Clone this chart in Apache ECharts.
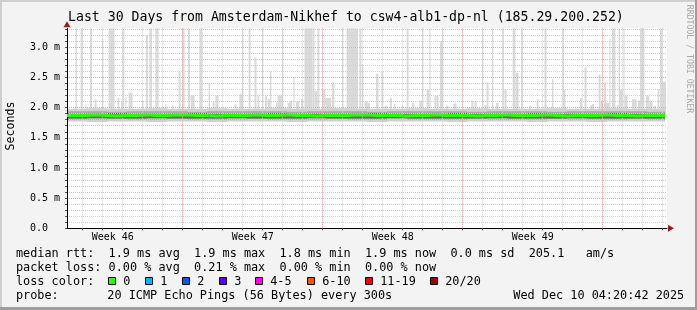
<!DOCTYPE html>
<html><head><meta charset="utf-8">
<script src="https://cdn.jsdelivr.net/npm/echarts@6/dist/echarts.min.js"></script>
<style>html,body{margin:0;padding:0;background:#f3f3f3}#c{width:697px;height:310px}</style>
</head><body><div id="c"></div>
<script>
// ---------------- data ----------------
const chartTitle = 'Last 30 Days from Amsterdam-Nikhef to csw4-alb1-dp-nl (185.29.200.252)';
const weekLabels = ['Week 46', 'Week 47', 'Week 48', 'Week 49'];
const yLabelValues = [0, 0.5, 1.0, 1.5, 2.0, 2.5, 3.0];
const yLabelTexts = ['0.0  ', '0.5 m', '1.0 m', '1.5 m', '2.0 m', '2.5 m', '3.0 m'];
const yMax = 3.315;              // ms, top of plot
const rangeDays = 30;
const firstMidnight = 0.785;     // days after range start
const firstWeekStart = 5.785;    // days after range start

// median rtt (ms), one value per half day
const medianStep = 0.5;
const median = [1.87,1.87,1.88,1.87,1.86,1.87,1.87,1.88,1.87,1.87,1.88,1.88,1.87,1.87,1.86,1.87,1.87,1.87,1.88,1.87,
                1.87,1.88,1.87,1.87,1.86,1.87,1.87,1.87,1.88,1.88,1.87,1.87,1.87,1.86,1.87,1.87,1.88,1.87,1.87,1.87,
                1.86,1.87,1.87,1.88,1.87,1.87,1.87,1.88,1.87,1.86,1.87,1.87,1.87,1.88,1.87,1.87,1.86,1.87,1.87,1.87];
const dataEnd = 29.9;
// loss = 1 segment
const loss1Start = [7.08];
const loss1End = [7.15];

// smoke bands (ms), one per day
const outerLo = [1.77,1.76,1.77,1.77,1.76,1.77,1.77,1.76,1.77,1.77,1.77,1.76,1.77,1.77,1.77,1.76,1.77,1.77,1.77,1.76,1.77,1.77,1.77,1.76,1.77,1.77,1.76,1.77,1.77,1.77];
const outerHi = [1.98,1.99,1.98,1.98,1.99,1.98,1.98,1.99,1.98,1.98,1.99,1.98,1.98,1.99,1.98,1.98,1.98,1.99,1.98,1.98,1.99,1.98,1.98,1.98,1.99,1.98,1.98,1.99,1.98,1.98];
const midLo = [1.80,1.80,1.81,1.80,1.80,1.81,1.80,1.80,1.80,1.81,1.80,1.80,1.80,1.81,1.80,1.80,1.81,1.80,1.80,1.80,1.81,1.80,1.80,1.80,1.81,1.80,1.80,1.80,1.81,1.80];
const midHi = [1.94,1.94,1.93,1.94,1.94,1.94,1.93,1.94,1.94,1.94,1.94,1.93,1.94,1.94,1.94,1.93,1.94,1.94,1.94,1.94,1.93,1.94,1.94,1.94,1.93,1.94,1.94,1.94,1.94,1.93];
const darkLo = [1.82,1.83,1.82,1.82,1.83,1.82,1.82,1.82,1.83,1.82,1.82,1.82,1.83,1.82,1.82,1.82,1.83,1.82,1.82,1.82,1.82,1.83,1.82,1.82,1.82,1.83,1.82,1.82,1.82,1.82];
const darkHi = [1.90,1.90,1.91,1.90,1.90,1.90,1.91,1.90,1.90,1.90,1.91,1.90,1.90,1.90,1.90,1.91,1.90,1.90,1.90,1.91,1.90,1.90,1.90,1.91,1.90,1.90,1.90,1.91,1.90,1.90];

// max-ping spikes: start day, end day, top (ms); 3.5 = off scale
const spikeBase = 1.9;
const spikeStart = [0.42,0.68,0.92,1.15,1.38,1.75,2.08,2.53,2.70,2.78,2.92,3.08,3.75,3.95,4.12,4.42,4.92,5.25,5.58,5.78,6.05,6.18,6.62,7.08,7.28,7.42,
  8.37,8.62,8.75,9.08,9.37,9.53,9.75,9.90,10.03,10.15,10.45,10.53,10.75,11.03,11.15,11.32,11.45,11.70,11.87,12.28,12.38,12.52,12.78,12.92,13.25,13.75,13.98,14.62,14.75,14.87,
  14.95,15.45,15.72,15.87,16.15,16.35,16.75,16.98,17.25,17.62,17.75,17.98,18.12,18.37,18.48,18.65,18.75,18.95,19.32,20.22,20.37,20.75,20.87,20.98,21.25,21.45,21.78,21.87,22.28,22.42,
  22.70,23.12,23.48,23.87,24.25,24.78,24.85,25.65,25.87,26.15,26.25,26.58,26.68,26.85,26.95,27.12,27.25,27.48,27.58,27.65,27.82,27.88,28.25,28.55,28.65,28.95,29.12,29.20,29.33,29.53,29.65,29.78];
const spikeEnd = [0.50,0.78,0.98,1.25,1.48,1.82,2.38,2.62,2.78,2.87,2.98,3.28,3.82,4.05,4.25,4.58,4.98,5.32,5.68,5.88,6.15,6.38,6.75,7.15,7.38,7.58,
  8.48,8.75,8.82,9.18,9.48,9.62,9.82,10.00,10.15,10.22,10.53,10.75,10.82,11.15,11.25,11.38,11.62,11.82,12.28,12.38,12.52,12.62,12.92,13.20,13.37,13.82,14.55,14.72,14.82,15.03,
  15.15,15.58,15.82,16.03,16.25,16.42,16.82,17.08,17.37,17.75,17.82,18.12,18.18,18.48,18.58,18.75,18.82,19.08,19.48,20.32,20.48,20.82,20.98,21.08,21.32,21.58,21.85,21.98,22.42,22.58,
  22.78,23.22,23.58,23.98,24.32,24.85,24.92,25.75,25.98,26.25,26.35,26.68,26.78,26.95,27.12,27.18,27.42,27.58,27.65,27.78,27.88,28.03,28.48,28.65,28.87,29.12,29.20,29.28,29.45,29.62,29.78,29.95];
const spikeTop = [3.5,3.5,2.06,3.5,2.14,3.14,3.5,2.16,2.10,3.5,2.18,2.25,2.12,3.20,3.5,3.5,2.06,2.04,2.60,3.5,3.5,2.20,3.5,2.42,2.10,2.20,
  2.05,2.23,3.5,3.5,2.83,2.20,3.5,2.20,2.14,2.60,2.08,2.20,3.5,2.08,2.12,2.50,2.10,2.14,3.5,3.5,2.28,3.5,2.30,2.16,2.42,3.5,3.5,3.5,2.72,2.10,
  2.08,2.56,2.60,2.03,2.16,2.06,2.04,3.5,2.08,2.12,3.5,2.30,3.5,2.20,2.20,3.10,3.5,2.03,2.07,2.12,2.12,3.5,2.04,2.42,3.5,2.08,3.5,2.30,3.5,2.58,
  3.5,2.03,2.14,3.5,2.48,3.5,2.30,2.16,2.67,2.04,2.06,2.55,2.12,2.42,2.08,3.14,3.5,2.04,3.5,2.30,3.5,2.20,2.14,2.12,3.5,2.20,2.12,2.10,2.03,2.30,3.5,2.43];

// legend texts
const rowRtt = 'median rtt:  1.9 ms avg  1.9 ms max  1.8 ms min  1.9 ms now  0.0 ms sd  205.1   am/s';
const rowLoss = 'packet loss: 0.00 % avg  0.21 % max  0.00 % min  0.00 % now';
const lossLabels = ['0', '1', '2', '3', '4-5', '6-10', '11-19', '20/20'];
const lossColors = ['#26ff00', '#00b8ff', '#0059ff', '#5e00ff', '#ff00ff', '#ff5500', '#ff0000', '#a10000'];
const probeText = '20 ICMP Echo Pings (56 Bytes) every 300s';
const stampText = 'Wed Dec 10 04:20:42 2025';

// ---------------- layout ----------------
const FONT = '"DejaVu Sans Mono", monospace';
const lossBoxX = [108.5, 145.5, 182.5, 219.5, 255.5, 307.5, 365.5, 430.5];

const dayTicks = [];
for (let d = firstMidnight; d < rangeDays; d += 1) dayTicks.push(+d.toFixed(3));
const weekTicks = [];
for (let d = firstWeekStart; d < rangeDays; d += 7) weekTicks.push(+d.toFixed(3));
const weekCenters = weekTicks.map(d => +(d - 3.5).toFixed(3));
const yMinor = [];
for (let i = 0; i <= 33; i++) yMinor.push(+(i / 10).toFixed(1));

function rectItem(params, api) {
  const a = api.coord([api.value(0), api.value(3)]);
  const b = api.coord([api.value(1), api.value(2)]);
  return { type: 'rect', shape: { x: a[0], y: a[1], width: b[0] - a[0], height: b[1] - a[1] },
           style: { fill: api.visual('color') } };
}
function bandData(lo, hi) {
  return lo.map((v, i) => [i, Math.min(i + 1, dataEnd), v, hi[i]]);
}
const medianData = median.map((v, i) => [i * medianStep, v]);
medianData.push([dataEnd, median[median.length - 1]]);

const chart = echarts.init(document.getElementById('c'), null, { renderer: 'canvas', width: 697, height: 310 });

const graphics = [
  // frame
  { type: 'rect', shape: { x: 0, y: 0, width: 697, height: 2 }, style: { fill: '#cfcfcf' }, silent: true },
  { type: 'rect', shape: { x: 0, y: 0, width: 2, height: 310 }, style: { fill: '#cfcfcf' }, silent: true },
  { type: 'rect', shape: { x: 0, y: 307, width: 697, height: 3 }, style: { fill: '#9e9e9e' }, silent: true },
  { type: 'rect', shape: { x: 695, y: 0, width: 2, height: 310 }, style: { fill: '#9e9e9e' }, silent: true },
  { type: 'text', x: 689, y: 59, rotation: -Math.PI / 2, silent: true,
    style: { text: 'RRDTOOL / TOBI OETIKER', font: '8.2px ' + FONT, fill: '#a8a8a8', align: 'center', verticalAlign: 'middle' } },
  { type: 'text', x: 10.5, y: 126, rotation: Math.PI / 2, silent: true,
    style: { text: 'Seconds', font: '11.6px ' + FONT, fill: '#000', align: 'center', verticalAlign: 'middle' } },
  { type: 'text', x: 16, y: 254, style: { text: rowRtt, font: '11.83px ' + FONT, fill: '#000', verticalAlign: 'middle' } },
  { type: 'text', x: 16, y: 268, style: { text: rowLoss, font: '11.83px ' + FONT, fill: '#000', verticalAlign: 'middle' } },
  { type: 'text', x: 16, y: 281.5, style: { text: 'loss color:', font: '11.83px ' + FONT, fill: '#000', verticalAlign: 'middle' } },
  { type: 'text', x: 16, y: 295.5, style: { text: 'probe:', font: '11.83px ' + FONT, fill: '#000', verticalAlign: 'middle' } },
  { type: 'text', x: 107.3, y: 295.5, style: { text: probeText, font: '11.83px ' + FONT, fill: '#000', verticalAlign: 'middle' } },
  { type: 'text', x: 513.3, y: 295.5, style: { text: stampText, font: '11.83px ' + FONT, fill: '#000', verticalAlign: 'middle' } }
];
lossLabels.forEach((lab, i) => {
  graphics.push({ type: 'rect', shape: { x: lossBoxX[i], y: 277.5, width: 7, height: 7 },
                  style: { fill: lossColors[i], stroke: '#000', lineWidth: 1 }, silent: true });
  graphics.push({ type: 'text', x: lossBoxX[i] + 14.7, y: 281.5,
                  style: { text: lab, font: '11.83px ' + FONT, fill: '#000', verticalAlign: 'middle' } });
});

const option = {
  backgroundColor: '#f3f3f3',
  animation: false,
  title: { text: chartTitle, left: 68, top: 11, padding: 0,
           textStyle: { fontFamily: FONT, fontSize: 13.2, fontWeight: 'normal', color: '#000' } },
  grid: { left: 67, right: 30, top: 28.3, height: 200, show: true, backgroundColor: '#ffffff', borderWidth: 0 },
  xAxis: [
    { type: 'value', min: 0, max: rangeDays, z: 3,
      axisLine: { show: true, onZero: false, lineStyle: { color: '#000', width: 1 } },
      axisTick: { show: true, customValues: dayTicks, length: 2, lineStyle: { color: '#555' } },
      splitLine: { show: true, lineStyle: { color: '#cdcdcd', type: 'dotted', width: 1 } },
      axisLabel: { customValues: weekCenters, margin: 4, color: '#000', fontFamily: FONT, fontSize: 10,
                   formatter: v => { const i = weekCenters.findIndex(c => Math.abs(c - v) < 0.01); return i >= 0 ? weekLabels[i] : ''; } } },
    { type: 'value', min: 0, max: rangeDays, position: 'bottom', z: 3,
      axisLine: { show: true, onZero: false, symbol: ['none', 'triangle'], symbolSize: [7, 6], symbolOffset: [0, 4],
                  lineStyle: { color: '#9b1c1c', width: 0 } },
      axisTick: { show: false, customValues: weekTicks },
      axisLabel: { show: false },
      splitLine: { show: true, lineStyle: { color: '#f0a0a0', type: 'dotted', width: 1 } } }
  ],
  yAxis: [
    { type: 'value', min: 0, max: yMax, z: 3,
      axisLine: { show: true, onZero: false, lineStyle: { color: '#000', width: 1 } },
      axisTick: { show: true, customValues: yMinor, length: 2, lineStyle: { color: '#555' } },
      splitLine: { show: true, lineStyle: { color: '#cdcdcd', type: 'dotted', width: 1 } },
      axisLabel: { customValues: yLabelValues, margin: 7, color: '#000', fontFamily: FONT, fontSize: 10,
                   formatter: v => { const i = yLabelValues.findIndex(c => Math.abs(c - v) < 0.001); return i >= 0 ? yLabelTexts[i] : ''; } } },
    { type: 'value', min: 0, max: yMax, position: 'left', z: 3,
      axisLine: { show: true, onZero: false, symbol: ['none', 'triangle'], symbolSize: [7, 6], symbolOffset: [0, 4],
                  lineStyle: { color: '#9b1c1c', width: 0 } },
      axisTick: { show: false, customValues: yLabelValues.slice(1) },
      axisLabel: { show: false },
      splitLine: { show: true, lineStyle: { color: '#f0a0a0', type: 'dotted', width: 1 } } }
  ],
  series: [
    { type: 'custom', name: 'spikes', clip: true, renderItem: rectItem, itemStyle: { color: '#dadada' },
      data: spikeStart.map((s, i) => [s, spikeEnd[i], spikeBase, spikeTop[i]]), z: 2 },
    { type: 'custom', name: 'outer', clip: true, renderItem: rectItem, itemStyle: { color: '#d0d0d0' },
      data: bandData(outerLo, outerHi), z: 2 },
    { type: 'custom', name: 'mid', clip: true, renderItem: rectItem, itemStyle: { color: '#a9a9a9' },
      data: bandData(midLo, midHi), z: 2 },
    { type: 'custom', name: 'dark', clip: true, renderItem: rectItem, itemStyle: { color: '#6a6a6a' },
      data: bandData(darkLo, darkHi), z: 2 },
    { type: 'line', name: 'median', data: medianData, step: 'end', symbol: 'none', z: 4,
      lineStyle: { color: '#26ff00', width: 3 } },
    { type: 'line', name: 'loss1', data: loss1Start.map((s, i) => [[s, median[Math.floor(s / medianStep)]], [loss1End[i], median[Math.floor(s / medianStep)]]]).flat(),
      symbol: 'none', z: 5, lineStyle: { color: '#00b8ff', width: 3 } }
  ],
  graphic: graphics
};
chart.setOption(option);
</script>
</body></html>
